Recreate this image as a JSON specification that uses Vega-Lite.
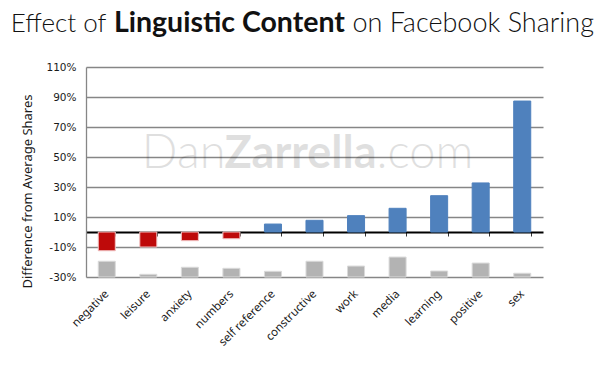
{
  "$schema": "https://vega.github.io/schema/vega-lite/v6.json",
  "width": 457,
  "height": 210,
  "autosize": {"type": "none"},
  "padding": {"left": 86, "top": 67, "right": 66, "bottom": 94},
  "background": "white",
  "config": {"view": {"stroke": null}},
  "datasets": {
    "bars": [
      {"cat": "negative", "value": -12.5, "base": -19.5},
      {"cat": "leisure", "value": -10, "base": -28.2},
      {"cat": "anxiety", "value": -5.8, "base": -23.5},
      {"cat": "numbers", "value": -4.5, "base": -24.2},
      {"cat": "self reference", "value": 5.3, "base": -26.2},
      {"cat": "constructive", "value": 7.8, "base": -19.5},
      {"cat": "work", "value": 10.9, "base": -22.7},
      {"cat": "media", "value": 15.8, "base": -16.7},
      {"cat": "learning", "value": 24.2, "base": -26},
      {"cat": "positive", "value": 32.7, "base": -20.7},
      {"cat": "sex", "value": 87.3, "base": -27.5}
    ],
    "texts": [
      {"part": "Effect of", "kind": "title-left", "cat": "numbers", "y": 133.3},
      {"part": "Linguistic Content", "kind": "title-bold", "cat": "numbers", "y": 133.3},
      {"part": "on Facebook Sharing", "kind": "title-right", "cat": "numbers", "y": 133.3},
      {"part": "Dan", "kind": "wm-left", "cat": "constructive", "y": 42.7},
      {"part": "Zarrella", "kind": "wm-bold", "cat": "constructive", "y": 42.7},
      {"part": ".com", "kind": "wm-right", "cat": "constructive", "y": 42.7}
    ]
  },
  "layer": [
    {
      "data": {"name": "texts"},
      "transform": [{"filter": "datum.kind == 'wm-left'"}],
      "mark": {"type": "text", "font": "Lato", "fontWeight": 300, "fontSize": 47, "align": "right", "baseline": "alphabetic", "dx": -89, "fill": "#000000", "opacity": 0.12},
      "encoding": {
        "x": {"field": "cat", "type": "nominal"},
        "y": {"field": "y", "type": "quantitative"},
        "text": {"field": "part"}
      }
    },
    {
      "data": {"name": "texts"},
      "transform": [{"filter": "datum.kind == 'wm-bold'"}],
      "mark": {"type": "text", "font": "Lato", "fontWeight": "bold", "fontSize": 45, "align": "center", "baseline": "alphabetic", "dx": -14, "fill": "#000000", "opacity": 0.12},
      "encoding": {
        "x": {"field": "cat", "type": "nominal"},
        "y": {"field": "y", "type": "quantitative"},
        "text": {"field": "part"}
      }
    },
    {
      "data": {"name": "texts"},
      "transform": [{"filter": "datum.kind == 'wm-right'"}],
      "mark": {"type": "text", "font": "Lato", "fontWeight": 300, "fontSize": 47, "align": "left", "baseline": "alphabetic", "dx": 62, "fill": "#000000", "opacity": 0.12},
      "encoding": {
        "x": {"field": "cat", "type": "nominal"},
        "y": {"field": "y", "type": "quantitative"},
        "text": {"field": "part"}
      }
    },
    {
      "data": {"name": "bars"},
      "mark": {"type": "bar", "color": "#B3B3B3", "stroke": "#DADADA", "strokeWidth": 1},
      "encoding": {
        "x": {
          "field": "cat", "type": "nominal", "sort": null,
          "scale": {"domain": ["negative", "leisure", "anxiety", "numbers", "self reference", "constructive", "work", "media", "learning", "positive", "sex"], "paddingInner": 0.59, "paddingOuter": 0.295},
          "axis": {
            "title": null, "offset": -45, "domainColor": "#000000", "domainWidth": 2,
            "ticks": true, "tickBand": "extent", "tickColor": "#333333", "tickSize": 4, "tickWidth": 1,
            "labelAngle": -45, "labelPadding": 56, "labelFont": "Noto Sans", "labelFontSize": 11.5,
            "labelColor": "#1a1a1a", "grid": false
          }
        },
        "y": {
          "field": "base", "type": "quantitative",
          "scale": {"domain": [-30, 110], "nice": false, "zero": false},
          "axis": {
            "values": [-30, -10, 10, 30, 50, 70, 90, 110],
            "tickCount": 8,
            "labelExpr": "datum.value + '%'",
            "labelOverlap": false,
            "title": "Difference from Average Shares",
            "titleFont": "Noto Sans", "titleFontSize": 13, "titleFontWeight": "normal", "titleColor": "#1a1a1a",
            "titleX": -59, "titleY": 124, "titleAngle": -90, "titleAlign": "center", "titleBaseline": "middle",
            "labelFont": "DejaVu Sans", "labelFontSize": 10.5, "labelColor": "#1a1a1a", "labelPadding": 10,
            "ticks": false, "domainColor": "#868686", "domainWidth": 1.3,
            "grid": true, "gridColor": "#868686", "gridWidth": 1.3
          }
        },
        "y2": {"datum": -30}
      }
    },
    {
      "data": {"name": "bars"},
      "mark": {"type": "bar", "strokeWidth": 1},
      "encoding": {
        "x": {"field": "cat", "type": "nominal", "sort": null},
        "y": {"field": "value", "type": "quantitative"},
        "y2": {"datum": 0},
        "color": {
          "condition": {"test": "datum.value < 0", "value": "#BE0A0A"},
          "value": "#4F81BD"
        },
        "stroke": {
          "condition": {"test": "datum.value < 0", "value": "#F2C4C4"},
          "value": "#4F81BD"
        }
      }
    },
    {
      "data": {"name": "texts"},
      "transform": [{"filter": "datum.kind == 'title-left'"}],
      "mark": {"type": "text", "font": "Lato", "fontWeight": 300, "fontSize": 26, "align": "right", "baseline": "alphabetic", "dx": -125, "fill": "#111111"},
      "encoding": {
        "x": {"field": "cat", "type": "nominal"},
        "y": {"field": "y", "type": "quantitative"},
        "text": {"field": "part"}
      }
    },
    {
      "data": {"name": "texts"},
      "transform": [{"filter": "datum.kind == 'title-bold'"}],
      "mark": {"type": "text", "font": "Lato", "fontWeight": "bold", "fontSize": 28.5, "align": "center", "baseline": "alphabetic", "dx": -2, "fill": "#111111"},
      "encoding": {
        "x": {"field": "cat", "type": "nominal"},
        "y": {"field": "y", "type": "quantitative"},
        "text": {"field": "part"}
      }
    },
    {
      "data": {"name": "texts"},
      "transform": [{"filter": "datum.kind == 'title-right'"}],
      "mark": {"type": "text", "font": "Lato", "fontWeight": 300, "fontSize": 27, "align": "left", "baseline": "alphabetic", "dx": 121, "fill": "#111111"},
      "encoding": {
        "x": {"field": "cat", "type": "nominal"},
        "y": {"field": "y", "type": "quantitative"},
        "text": {"field": "part"}
      }
    }
  ]
}
